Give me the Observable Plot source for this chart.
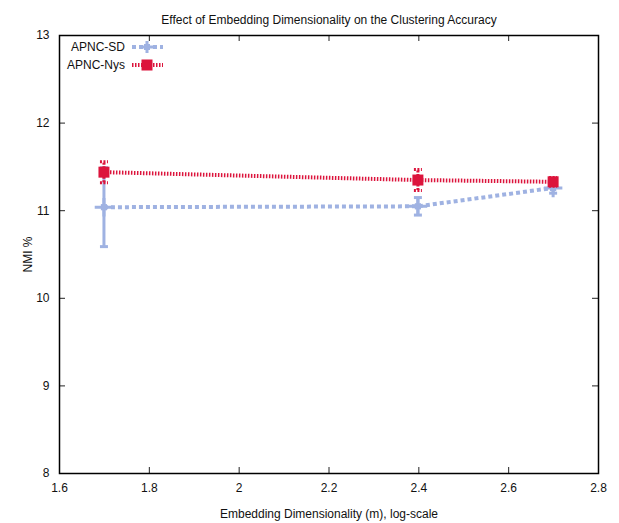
<!DOCTYPE html>
<html>
<head>
<meta charset="utf-8">
<script src="https://cdn.jsdelivr.net/npm/d3@7"></script>
<script src="https://cdn.jsdelivr.net/npm/@observablehq/plot@0.6"></script>
<style>
  body { margin: 0; background: #fff; }
  #wrap { position: relative; width: 619px; height: 523px; }
  #legend { position: absolute; left: 0; top: 0; }
  text { font-family: "Liberation Sans", Arial, sans-serif; }
</style>
</head>
<body>
<div id="wrap"></div>
<script>
// Embedding dimensionality m and NMI (%) for the two methods
const dims = [50, 250, 500];
const sdMean = [11.04, 11.05, 11.26];
const sdErr = [0.45, 0.10, 0.06];
const nysMean = [11.44, 11.35, 11.33];
const nysErr = [0.12, 0.12, 0.05];

const xTicks = [1.6, 1.8, 2.0, 2.2, 2.4, 2.6, 2.8];
const yTicks = [8, 9, 10, 11, 12, 13];

const SD_COLOR = "#9fb2e2";
const NYS_COLOR = "#dc143c";

const sd = dims.map((m, i) => ({x: Math.log10(m), y: sdMean[i], lo: sdMean[i] - sdErr[i], hi: sdMean[i] + sdErr[i]}));
const nys = dims.map((m, i) => ({x: Math.log10(m), y: nysMean[i], lo: nysMean[i] - nysErr[i], hi: nysMean[i] + nysErr[i]}));

// short horizontal stroke used as an error-bar cap
const capSymbol = {
  draw(ctx, size) {
    const r = Math.sqrt(size / Math.PI);
    ctx.moveTo(-r, 0);
    ctx.lineTo(r, 0);
  }
};

const W = 619, H = 523;
const mL = 59, mR = 21, mT = 35, mB = 50;
const innerW = W - mL - mR, innerH = H - mT - mB;
const TICK = 6;

const chart = Plot.plot({
  width: W,
  height: H,
  marginLeft: mL,
  marginRight: mR,
  marginTop: mT,
  marginBottom: mB,
  style: {fontFamily: "Liberation Sans, Arial, sans-serif", fontSize: "12px", color: "#111", background: "#fff"},
  x: {domain: [1.6, 2.8], ticks: xTicks},
  y: {domain: [8, 13], ticks: yTicks},
  marks: [
    // tick labels and axis titles
    Plot.axisX(xTicks, {tickSize: 0, tickPadding: 10, tickFormat: d => String(+d.toFixed(1)),
      label: "Embedding Dimensionality (m), log-scale", labelAnchor: "center", labelArrow: "none", labelOffset: 44}),
    Plot.axisY(yTicks, {tickSize: 0, tickPadding: 10, tickFormat: d => String(d),
      label: "NMI %", labelAnchor: "center", labelArrow: "none", labelOffset: 36}),
    // inward ticks on all four sides
    Plot.tickX(xTicks, {x: d => d, insetTop: innerH - TICK, stroke: "#222", strokeWidth: 1}),
    Plot.tickX(xTicks.slice(1, -1), {x: d => d, insetBottom: innerH - TICK, stroke: "#222", strokeWidth: 1}),
    Plot.tickY(yTicks, {y: d => d, insetRight: innerW - TICK, stroke: "#222", strokeWidth: 1}),
    Plot.tickY(yTicks.slice(1, -1), {y: d => d, insetLeft: innerW - TICK, stroke: "#222", strokeWidth: 1}),
    Plot.frame({stroke: "#000", strokeWidth: 1.5}),
    // APNC-SD
    Plot.ruleX(sd, {x: "x", y1: "lo", y2: "hi", stroke: SD_COLOR, strokeWidth: 3}),
    Plot.dot(sd, {x: "x", y: "lo", symbol: capSymbol, r: 4, fill: "none", stroke: SD_COLOR, strokeWidth: 3}),
    Plot.dot(sd, {x: "x", y: "hi", symbol: capSymbol, r: 4, fill: "none", stroke: SD_COLOR, strokeWidth: 3}),
    Plot.line(sd, {x: "x", y: "y", stroke: SD_COLOR, strokeWidth: 4, strokeDasharray: "4,3", strokeLinecap: "butt"}),
    Plot.dot(sd, {x: "x", y: "y", symbol: "plus", r: 6, fill: "none", stroke: SD_COLOR, strokeWidth: 3}),
    Plot.dot(sd, {x: "x", y: "y", symbol: "square", r: 3.5, fill: SD_COLOR}),
    // APNC-Nys
    Plot.ruleX(nys, {x: "x", y1: "lo", y2: "hi", stroke: NYS_COLOR, strokeWidth: 3, strokeDasharray: "2,1.5"}),
    Plot.dot(nys, {x: "x", y: "lo", symbol: capSymbol, r: 4, fill: "none", stroke: NYS_COLOR, strokeWidth: 3, strokeDasharray: "2,1.5"}),
    Plot.dot(nys, {x: "x", y: "hi", symbol: capSymbol, r: 4, fill: "none", stroke: NYS_COLOR, strokeWidth: 3, strokeDasharray: "2,1.5"}),
    Plot.line(nys, {x: "x", y: "y", stroke: NYS_COLOR, strokeWidth: 4, strokeDasharray: "1.5,1.5", strokeLinecap: "butt"}),
    Plot.dot(nys, {x: "x", y: "y", symbol: "square", r: 6.2, fill: NYS_COLOR}),
    // title
    Plot.text(["Effect of Embedding Dimensionality on the Clustering Accuracy"],
      {frameAnchor: "top", dy: -20, fontSize: 12, fill: "#111"})
  ]
});

const wrap = document.getElementById("wrap");
wrap.appendChild(chart);

// key in the top-left corner of the frame
const legendItems = [
  {name: "APNC-SD", color: SD_COLOR, dash: "4,3", kind: "sd"},
  {name: "APNC-Nys", color: NYS_COLOR, dash: "1.5,1.5", kind: "nys"}
];
const legend = d3.create("svg")
  .attr("id", "legend")
  .attr("width", 200)
  .attr("height", 90);
legendItems.forEach((item, i) => {
  const cy = 47 + i * 18;
  legend.append("text")
    .attr("x", 125).attr("y", cy).attr("dy", "0.35em")
    .attr("text-anchor", "end")
    .attr("font-size", 12).attr("fill", "#111")
    .text(item.name);
  legend.append("line")
    .attr("x1", 132).attr("x2", 163).attr("y1", cy).attr("y2", cy)
    .attr("stroke", item.color).attr("stroke-width", 4)
    .attr("stroke-dasharray", item.dash);
  if (item.kind === "sd") {
    legend.append("path")
      .attr("d", `M${147 - 6},${cy}h12M147,${cy - 6}v12`)
      .attr("stroke", item.color).attr("stroke-width", 3);
    legend.append("rect")
      .attr("x", 147 - 3).attr("y", cy - 3).attr("width", 6).attr("height", 6)
      .attr("fill", item.color);
  } else {
    legend.append("rect")
      .attr("x", 147 - 5.5).attr("y", cy - 5.5).attr("width", 11).attr("height", 11)
      .attr("fill", item.color);
  }
});
wrap.appendChild(legend.node());
</script>
</body>
</html>
